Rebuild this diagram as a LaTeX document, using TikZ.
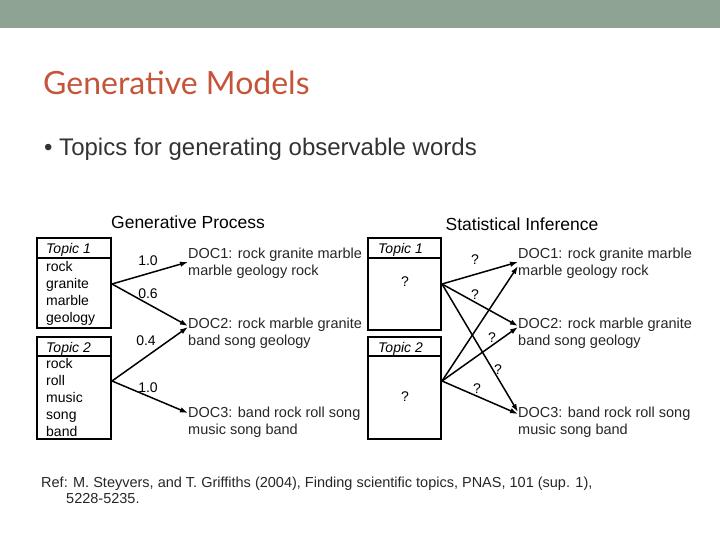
\documentclass[tikz,border=0pt]{standalone}
\usepackage{fontspec}
\setmainfont{Liberation Sans}
\newfontfamily\titlefont{Lato}
\usetikzlibrary{positioning, arrows.meta}
\definecolor{barcolor}{HTML}{8FA395}
\definecolor{titlecolor}{HTML}{C4553B}

\tikzset{
  word/.style={font=\fontsize{14}{14}\selectfont, anchor=base west, inner sep=0pt},
  doc/.style={font=\fontsize{14.5}{17}\selectfont, align=left, anchor=west, inner sep=0pt, text=black!85},
  prob/.style={font=\fontsize{14}{14}\selectfont, inner sep=0pt},
  link/.style={-{Latex[length=8pt,width=5.5pt]}, line width=1.5pt},
  boxline/.style={line width=1.8pt}
}

\begin{document}
\begin{tikzpicture}[x=1pt, y=-1pt]
\useasboundingbox (0,0) rectangle (720,540);
\fill[barcolor] (0,0) rectangle (720,28);

\node (title) [anchor=west, text=titlecolor, font=\titlefont\fontsize{32}{32}\selectfont, inner sep=0pt] at (43,83) {Generative Models};
\node (bullet) [anchor=west, font=\fontsize{24}{24}\selectfont, inner sep=0pt, text=black!80] at (44,149) {\textbullet{} Topics for generating observable words};

% generative process
\node (gp) [font=\fontsize{17.5}{17}\selectfont] at (188,222) {Generative Process};

\draw[boxline] (37,238) rectangle (111,328) (37,258) -- (111,258);
\draw[boxline] (37,337) rectangle (111,439) (37,356) -- (111,356);
\node (ga) [word] at (46,253) {\itshape Topic 1};
\node (gb) [word] at (46,352) {\itshape Topic 2};
\foreach \w [count=\i] in {rock, granite, marble, geology}
  \node [word] at (46,254+17*\i) {\w};
\foreach \w [count=\i] in {rock, roll, music, song, band}
  \node [word] at (46,352+16.8*\i) {\w};

\coordinate (gsa) at (112,284);
\coordinate (gsb) at (112,381);
\node (gd1) [doc] at (188,263) {DOC1: rock granite marble\\marble geology rock};
\node (gd2) [doc] at (188,333) {DOC2: rock marble granite\\band song geology};
\node (gd3) [doc] at (188,422) {DOC3: band rock roll song\\music song band};

\draw[link] (gsa) -- (gd1.west |- 0,262);
\draw[link] (gsa) -- (gd2.west |- 0,326);
\draw[link] (gsb) -- (gd2.west |- 0,327);
\draw[link] (gsb) -- (gd3.west |- 0,413);
\node [prob] at (148,261) {1.0};
\node [prob] at (148,294) {0.6};
\node [prob] at (146,341) {0.4};
\node [prob] at (148,388) {1.0};

% statistical inference
\node (si) [font=\fontsize{17.5}{17}\selectfont] at (522,224) {Statistical Inference};

\draw[boxline] (368,238) rectangle (441,330) (368,258) -- (441,258);
\draw[boxline] (368,337) rectangle (441,439) (368,356) -- (441,356);
\node (sa) [word] at (378,253) {\itshape Topic 1};
\node (sb) [word] at (378,352) {\itshape Topic 2};
\node [prob] at (405,282) {?};
\node [prob] at (405,397) {?};

\coordinate (ssa) at (442,284);
\coordinate (ssb) at (442,381);
\node (sd1) [doc] at (518,263) {DOC1: rock granite marble\\marble geology rock};
\node (sd2) [doc] at (518,333) {DOC2: rock marble granite\\band song geology};
\node (sd3) [doc] at (518,422) {DOC3: band rock roll song\\music song band};

\draw[link] (ssa) -- (sd1.west |- 0,262);
\draw[link] (ssa) -- (sd2.west |- 0,326);
\draw[link] (ssa) -- (sd3.west |- 0,412);
\draw[link] (ssb) -- (sd1.west |- 0,266);
\draw[link] (ssb) -- (sd2.west |- 0,327);
\draw[link] (ssb) -- (sd3.west |- 0,414);
\node [prob] at (475,260) {?};
\node [prob] at (475,295) {?};
\node [prob] at (492,338) {?};
\node [prob] at (498,370) {?};
\node [prob] at (477,389) {?};

\node (ref) [anchor=north west, align=left, font=\fontsize{14.5}{15.5}\selectfont, inner sep=0pt, text=black!85] at (41,477)
  {Ref: M. Steyvers, and T. Griffiths (2004), Finding scientific topics, PNAS, 101 (sup. 1),\\\hspace*{25pt}5228-5235.};
\end{tikzpicture}
\end{document}
